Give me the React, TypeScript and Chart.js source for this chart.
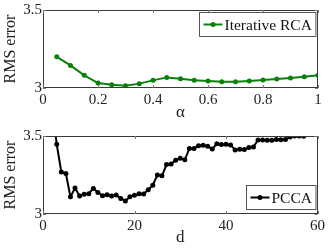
import React, { useEffect, useRef } from "react";
import { Chart, registerables } from "chart.js";
Chart.register(...registerables);

const alphaValues = [0.05, 0.1, 0.15, 0.2, 0.25, 0.3, 0.35, 0.4, 0.45, 0.5, 0.55, 0.6, 0.65, 0.7, 0.75, 0.8, 0.85, 0.9, 0.95, 1.0];
const rcaError = [3.2, 3.145, 3.081, 3.032, 3.021, 3.015, 3.028, 3.049, 3.068, 3.06, 3.049, 3.045, 3.04, 3.04, 3.045, 3.051, 3.057, 3.064, 3.072, 3.081];

const dValues = [2, 3, 4, 5, 6, 7, 8, 9, 10, 11, 12, 13, 14, 15, 16, 17, 18, 19, 20, 21, 22, 23, 24, 25, 26, 27, 28, 29, 30, 31, 32, 33, 34, 35, 36, 37, 38, 39, 40, 41, 42, 43, 44, 45, 46, 47, 48, 49, 50, 51, 52, 53, 54, 55, 56, 57];
const pccaError = [3.69, 3.447, 3.27, 3.26, 3.11, 3.166, 3.115, 3.126, 3.13, 3.164, 3.138, 3.117, 3.123, 3.115, 3.121, 3.1, 3.083, 3.11, 3.12, 3.13, 3.128, 3.155, 3.185, 3.25, 3.245, 3.317, 3.32, 3.345, 3.357, 3.347, 3.42, 3.42, 3.437, 3.44, 3.434, 3.417, 3.45, 3.445, 3.447, 3.443, 3.41, 3.415, 3.413, 3.426, 3.43, 3.475, 3.475, 3.472, 3.472, 3.478, 3.476, 3.478, 3.494, 3.5, 3.5, 3.498];

const alphaTicks = [0, 0.2, 0.4, 0.6, 0.8, 1];
const dTicks = [0, 20, 40, 60];
const errorTicks = [3, 3.5];

const SERIF = "'Liberation Serif', 'DejaVu Serif', serif";

const framePlugin = {
  id: "frame",
  afterDatasetsDraw(chart: any) {
    const { ctx, chartArea } = chart;
    const { left, right, top, bottom } = chartArea;
    const xs = chart.scales.x;
    const ys = chart.scales.y;
    ctx.save();
    ctx.strokeStyle = "#3a3a3a";
    ctx.lineWidth = 1;
    ctx.strokeRect(Math.round(left) + 0.5, Math.round(top) + 0.5, Math.round(right - left) - 1, Math.round(bottom - top) - 1);
    ctx.strokeStyle = "#777";
    ctx.beginPath();
    const tl = 3;
    xs.ticks.forEach((t: any) => {
      const px = Math.round(xs.getPixelForValue(t.value)) + 0.5;
      ctx.moveTo(px, bottom);
      ctx.lineTo(px, bottom - tl);
      ctx.moveTo(px, top);
      ctx.lineTo(px, top + tl);
    });
    ys.ticks.forEach((t: any) => {
      const py = Math.round(ys.getPixelForValue(t.value)) + 0.5;
      ctx.moveTo(left, py);
      ctx.lineTo(left + tl, py);
      ctx.moveTo(right, py);
      ctx.lineTo(right - tl, py);
    });
    ctx.stroke();
    ctx.restore();
  },
};

const boxLegendPlugin = {
  id: "boxLegend",
  afterDraw(chart: any, _args: any, opts: any) {
    if (!opts || !opts.label) return;
    const { ctx, chartArea } = chart;
    ctx.save();
    ctx.font = "15.5px " + SERIF;
    const tw = ctx.measureText(opts.label).width;
    const lineLen = 19;
    const w = 4 + lineLen + 2 + tw + 4;
    const h = 24;
    const right = chartArea.right - opts.insetRight;
    const x0 = Math.round(right - w) + 0.5;
    const y0 = opts.corner === "ne" ? Math.round(chartArea.top + opts.insetV) + 0.5 : Math.round(chartArea.bottom - opts.insetV - h) + 0.5;
    ctx.fillStyle = "#fff";
    ctx.fillRect(x0, y0, w, h);
    ctx.strokeStyle = "#555";
    ctx.lineWidth = 1;
    ctx.strokeRect(x0, y0, w, h);
    const cy = y0 + h / 2;
    ctx.strokeStyle = opts.color;
    ctx.lineWidth = 2;
    ctx.beginPath();
    ctx.moveTo(x0 + 4, cy);
    ctx.lineTo(x0 + 4 + lineLen, cy);
    ctx.stroke();
    ctx.fillStyle = opts.color;
    ctx.beginPath();
    ctx.arc(x0 + 4 + lineLen / 2, cy, 2.5, 0, Math.PI * 2);
    ctx.fill();
    ctx.fillStyle = "#111";
    ctx.textBaseline = "middle";
    ctx.textAlign = "left";
    ctx.fillText(opts.label, x0 + 4 + lineLen + 2, cy + 1);
    ctx.restore();
  },
};

function makeConfig(
  xs: number[],
  ys: number[],
  color: string,
  xTicks: number[],
  xTitle: string,
  padTop: number,
  xAxisHeight: number,
  legend: any
): any {
  return {
    type: "line",
    data: {
      datasets: [
        {
          data: xs.map((x, i) => ({ x, y: ys[i] })),
          borderColor: color,
          backgroundColor: color,
          borderWidth: 2,
          pointRadius: 2.5,
          pointBorderWidth: 0,
          pointBackgroundColor: color,
          tension: 0,
        },
      ],
    },
    options: {
      animation: false,
      responsive: false,
      devicePixelRatio: 1,
      layout: { padding: { top: padTop, right: 10, left: 0, bottom: 0 } },
      plugins: {
        legend: { display: false },
        tooltip: { enabled: false },
        boxLegend: legend,
      },
      scales: {
        x: {
          type: "linear",
          min: xTicks[0],
          max: xTicks[xTicks.length - 1],
          afterBuildTicks: (s: any) => {
            s.ticks = xTicks.map((v) => ({ value: v }));
          },
          afterFit: (s: any) => {
            s.height = xAxisHeight;
          },
          grid: { display: false, drawTicks: false },
          border: { display: false },
          ticks: {
            padding: 3,
            maxRotation: 0,
            autoSkip: false,
            color: "#222",
            font: { family: SERIF, size: 15 },
            callback: (v: any) => String(v),
          },
          title: {
            display: true,
            text: xTitle,
            color: "#222",
            font: { family: SERIF, size: 17 },
            padding: { top: 0, bottom: 1 },
          },
        },
        y: {
          type: "linear",
          min: errorTicks[0],
          max: errorTicks[errorTicks.length - 1],
          afterBuildTicks: (s: any) => {
            s.ticks = errorTicks.map((v) => ({ value: v }));
          },
          afterFit: (s: any) => {
            s.width = 43;
          },
          grid: { display: false, drawTicks: false },
          border: { display: false },
          ticks: {
            padding: 1,
            color: "#222",
            font: { family: SERIF, size: 15 },
            callback: (v: any) => String(v),
          },
          title: {
            display: true,
            text: "RMS error",
            color: "#222",
            font: { family: SERIF, size: 16 },
            padding: { top: 1, bottom: 0 },
          },
        },
      },
    },
    plugins: [framePlugin, boxLegendPlugin],
  };
}

function ChartCanvas({ config, width, height }: { config: any; width: number; height: number }) {
  const ref = useRef<HTMLCanvasElement | null>(null);
  useEffect(() => {
    if (!ref.current) return;
    const chart = new Chart(ref.current, config);
    return () => chart.destroy();
  }, []);
  return <canvas ref={ref} width={width} height={height} style={{ display: "block", width, height }} />;
}

export default function App() {
  const topCfg = makeConfig(alphaValues, rcaError, "#0a820a", alphaTicks, "α", 10, 36, {
    label: "Iterative RCA",
    color: "#0a820a",
    corner: "ne",
    insetRight: 3,
    insetV: 2,
  });
  const botCfg = makeConfig(dValues, pccaError, "#000000", dTicks, "d", 12, 35, {
    label: "PCCA",
    color: "#000000",
    corner: "se",
    insetRight: 2,
    insetV: 5,
  });
  return (
    <div style={{ position: "absolute", left: 0, top: 0, width: 328, height: 249, background: "#fff" }}>
      <ChartCanvas config={topCfg} width={328} height={124} />
      <ChartCanvas config={botCfg} width={328} height={125} />
    </div>
  );
}
